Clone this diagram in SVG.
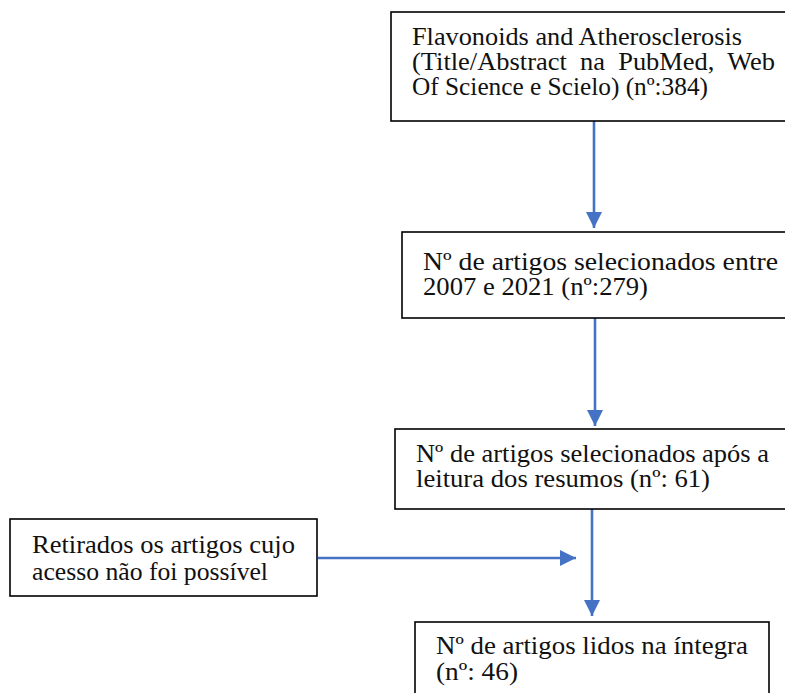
<svg xmlns="http://www.w3.org/2000/svg" width="785" height="693" viewBox="0 0 785 693">
<style>
.box{fill:#fff;stroke:#000;stroke-width:1.6}
.t{font-family:'Liberation Serif','Times New Roman',serif;font-size:25px;fill:#111}
.c{stroke:#4472C4;stroke-width:2.6;fill:none}
</style>
<defs>
<marker id="ah" markerUnits="userSpaceOnUse" markerWidth="16" markerHeight="18" refX="16" refY="8" orient="auto" viewBox="0 0 16 16">
<path d="M0,0 L16,8 L0,16 Z" fill="#4472C4"/>
</marker>
</defs>
<rect width="785" height="693" fill="#fff"/>
<g id="connectors">
<line class="c" x1="594" y1="121" x2="594" y2="228" marker-end="url(#ah)"/>
<line class="c" x1="595" y1="318" x2="595" y2="426" marker-end="url(#ah)"/>
<line class="c" x1="592" y1="509" x2="592" y2="616" marker-end="url(#ah)"/>
<line class="c" x1="318" y1="558" x2="576" y2="558" marker-end="url(#ah)"/>
</g>
<g id="n1">
<rect class="box" x="391" y="12" width="420" height="109"/>
<text class="t" x="412" y="45" textLength="330" lengthAdjust="spacingAndGlyphs">Flavonoids and Atherosclerosis</text>
<text class="t" x="412" y="70" textLength="363" lengthAdjust="spacingAndGlyphs" style="white-space:pre">(Title/Abstract  na  PubMed,  Web</text>
<text class="t" x="412" y="95" textLength="296" lengthAdjust="spacingAndGlyphs">Of Science e Scielo) (nº:384)</text>
</g>
<g id="n2">
<rect class="box" x="402" y="232" width="420" height="86"/>
<text class="t" x="423" y="270" textLength="355" lengthAdjust="spacingAndGlyphs">Nº de artigos selecionados entre</text>
<text class="t" x="423" y="295" textLength="225" lengthAdjust="spacingAndGlyphs">2007 e 2021 (nº:279)</text>
</g>
<g id="n3">
<rect class="box" x="395" y="429" width="420" height="80"/>
<text class="t" x="416" y="462" textLength="353" lengthAdjust="spacingAndGlyphs">Nº de artigos selecionados após a</text>
<text class="t" x="416" y="487" textLength="294" lengthAdjust="spacingAndGlyphs">leitura dos resumos (nº: 61)</text>
</g>
<g id="n4">
<rect class="box" x="10" y="519" width="307" height="77"/>
<text class="t" x="32" y="553" textLength="263" lengthAdjust="spacingAndGlyphs">Retirados os artigos cujo</text>
<text class="t" x="32" y="580" textLength="236" lengthAdjust="spacingAndGlyphs">acesso não foi possível</text>
</g>
<g id="n5">
<rect class="box" x="415" y="622" width="354" height="90"/>
<text class="t" x="436" y="654" textLength="312" lengthAdjust="spacingAndGlyphs">Nº de artigos lidos na íntegra</text>
<text class="t" x="436" y="680" textLength="82" lengthAdjust="spacingAndGlyphs">(nº: 46)</text>
</g>
</svg>
